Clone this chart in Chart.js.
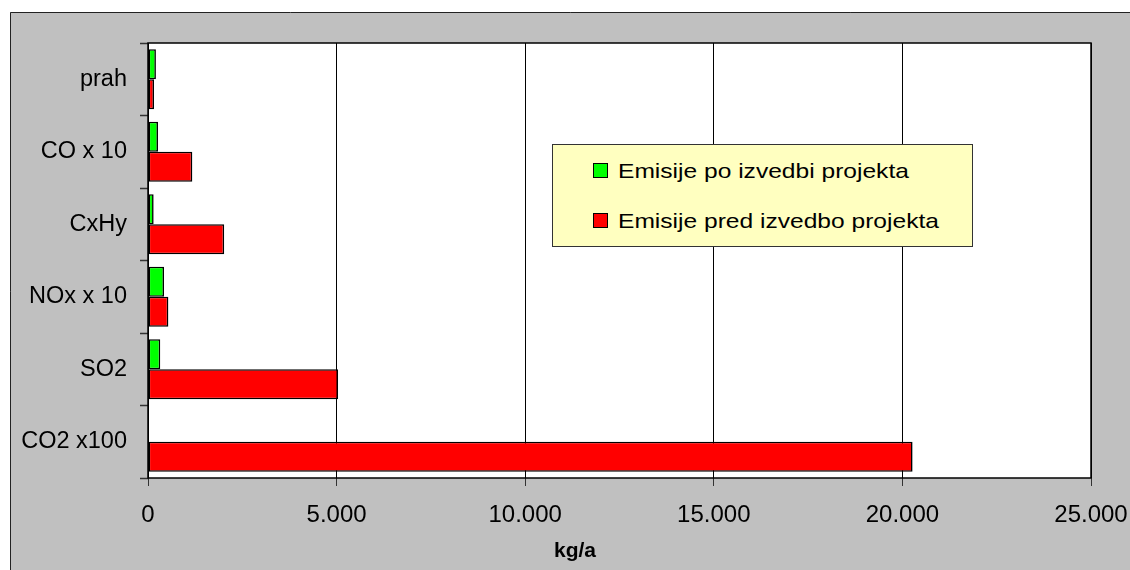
<!DOCTYPE html>
<html>
<head>
<meta charset="utf-8">
<script src="https://cdn.jsdelivr.net/npm/chart.js@4.4.0/dist/chart.umd.min.js"></script>
<style>
  html, body { margin: 0; padding: 0; background: #fff; }
  #wrap { position: relative; width: 1130px; height: 570px; overflow: hidden; }
  #legend {
    position: absolute; left: 552px; top: 144px; width: 419px; height: 101px;
    background: #ffffc0; border: 1px solid #333;
    font-family: 'Liberation Sans', Arial, sans-serif; font-size: 21px; color: #000;
  }
  #legend .item { position: absolute; left: 40px; height: 24px; line-height: 24px; white-space: nowrap; }
  #legend .box { position: absolute; left: 0; top: 4px; width: 13px; height: 13px; border: 1.5px solid #000; }
  #legend .txt { position: absolute; left: 25px; top: 0; transform: scaleX(1.17); transform-origin: left center; }
  #xtitle {
    position: absolute; left: 475px; width: 200px; top: 538px; text-align: center;
    font-family: 'Liberation Sans', Arial, sans-serif; font-weight: bold; font-size: 21px; color: #000;
  }
</style>
</head>
<body>
<div id="wrap">
  <canvas id="chart" width="1130" height="570"></canvas>
  <div id="legend">
    <div class="item" style="top:14px"><span class="box" style="background:#00ff00"></span><span class="txt">Emisije po izvedbi projekta</span></div>
    <div class="item" style="top:64px"><span class="box" style="background:#ff0000"></span><span class="txt">Emisije pred izvedbo projekta</span></div>
  </div>
  <div id="xtitle">kg/a</div>
</div>
<script>
const CATEGORIES = ['prah', 'CO x 10', 'CxHy', 'NOx x 10', 'SO2', 'CO2 x100']
const AFTER = [210, 265, 150, 425, 325, 0]
const BEFORE = [160, 1175, 2020, 540, 5040, 20270]
const SERIES_NAMES = ['Emisije po izvedbi projekta', 'Emisije pred izvedbo projekta']

const FONT = "'Liberation Sans', Arial, sans-serif"

// grey outer frame + white plot area, then a border round the plot
const framePlugin = {
  id: 'frame',
  beforeDraw(chart) {
    const { ctx, chartArea: a } = chart
    ctx.save()
    ctx.fillStyle = '#c0c0c0'
    ctx.fillRect(10, 12, 1130, 570)
    ctx.strokeStyle = '#222'
    ctx.lineWidth = 1
    ctx.beginPath()
    ctx.moveTo(10.5, 570)
    ctx.lineTo(10.5, 12.5)
    ctx.lineTo(1130, 12.5)
    ctx.stroke()
    ctx.fillStyle = '#fff'
    ctx.fillRect(a.left, a.top, a.right - a.left, a.bottom - a.top)
    ctx.restore()
  },
  afterDatasetsDraw(chart) {
    const { ctx, chartArea: a } = chart
    ctx.save()
    ctx.strokeStyle = '#000'
    ctx.lineWidth = 1.5
    ctx.strokeRect(a.left, a.top, a.right - a.left, a.bottom - a.top)
    ctx.restore()
  },
}

new Chart(document.getElementById('chart'), {
  type: 'bar',
  data: {
    labels: CATEGORIES,
    datasets: [
      { label: SERIES_NAMES[0], data: AFTER, backgroundColor: '#00ff00', borderColor: '#000', borderWidth: 1.6, borderSkipped: false },
      { label: SERIES_NAMES[1], data: BEFORE, backgroundColor: '#ff0000', borderColor: '#000', borderWidth: 1.6, borderSkipped: false },
    ],
  },
  options: {
    indexAxis: 'y',
    responsive: false,
    animation: false,
    devicePixelRatio: 1,
    layout: { padding: { top: 43, right: 39, left: 0, bottom: 0 } },
    datasets: { bar: { categoryPercentage: 0.83, barPercentage: 1.0 } },
    plugins: { legend: { display: false }, tooltip: { enabled: false } },
    scales: {
      x: {
        min: 0,
        max: 25000,
        ticks: {
          stepSize: 5000,
          color: '#000',
          padding: 15,
          font: { family: FONT, size: 24 },
          callback: v => v.toLocaleString('de-DE'),
        },
        grid: { color: '#000', lineWidth: 1, tickLength: 8, tickColor: '#333' },
        border: { display: false },
        afterFit: s => { s.height = 92; s.paddingLeft = 0; s.paddingRight = 0 },
      },
      y: {
        ticks: { color: '#000', padding: 13, font: { family: FONT, size: 23.5 } },
        grid: { drawOnChartArea: false, offset: true, tickLength: 8, tickColor: '#333', tickWidth: 1.5 },
        border: { display: false },
        afterFit: s => { s.width = 148; s.paddingTop = 0; s.paddingBottom = 0 },
      },
    },
  },
  plugins: [framePlugin],
})
</script>
</body>
</html>
